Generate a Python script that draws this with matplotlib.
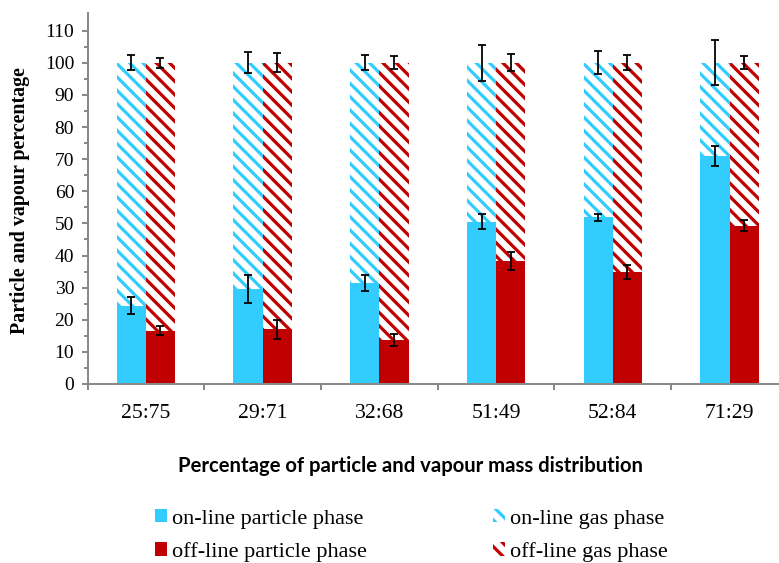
import numpy as np
import matplotlib
matplotlib.use('Agg')
import matplotlib.pyplot as plt
from matplotlib.patches import Patch

# ---- data ----
categories = ['25:75', '29:71', '32:68', '51:49', '52:84', '71:29']
online_particle = [24.4, 29.5, 31.3, 50.5, 51.9, 71.1]
online_particle_err = [2.7, 4.3, 2.5, 2.3, 1.1, 3.1]
offline_particle = [16.6, 17.0, 13.7, 38.4, 34.8, 49.3]
offline_particle_err = [1.5, 3.0, 2.0, 2.8, 2.2, 1.8]
online_gas = [100 - v for v in online_particle]
online_gas_err = [2.4, 3.3, 2.3, 5.6, 3.6, 7.0]
offline_gas = [100 - v for v in offline_particle]
offline_gas_err = [1.5, 3.0, 2.0, 2.6, 2.3, 2.0]

BLUE = '#33CCFF'
RED = '#C00000'
GREY = '#898989'
SERIF = 'Liberation Serif'

DPI = 80
plt.rcParams['hatch.linewidth'] = 2.9
plt.rcParams['font.family'] = SERIF

fig = plt.figure(figsize=(779 / DPI, 563 / DPI), dpi=DPI)
W, H = 779, 563
ax = fig.add_axes([87.5 / W, 1 - 384 / H, (788 - 87.5) / W, (384 - 13) / H])

x = np.arange(len(categories))
bw = 0.25
x_on = x - bw / 2
x_off = x + bw / 2
HATCH = '\\\\'

ax.bar(x_on, online_particle, bw, color=BLUE, linewidth=0)
ax.bar(x_off, offline_particle, bw, color=RED, linewidth=0)
ax.bar(x_on, online_gas, bw, bottom=online_particle, color='white',
       edgecolor=BLUE, hatch=HATCH, linewidth=0)
ax.bar(x_off, offline_gas, bw, bottom=offline_particle, color='white',
       edgecolor=RED, hatch=HATCH, linewidth=0)

eb = dict(fmt='none', ecolor='black', elinewidth=1.6, capsize=4, capthick=1.6)
ax.errorbar(x_on, online_particle, yerr=online_particle_err, **eb)
ax.errorbar(x_off, offline_particle, yerr=offline_particle_err, **eb)
ax.errorbar(x_on, [100] * len(x), yerr=online_gas_err, **eb)
ax.errorbar(x_off, [100] * len(x), yerr=offline_gas_err, **eb)

ax.set_xlim(-0.5, len(categories) - 0.5)
ax.set_ylim(0, 115.5)

# y axis
ax.set_yticks(np.arange(0, 111, 10))
ax.set_yticks(np.arange(5, 111, 10), minor=True)
ax.tick_params(axis='y', which='major', direction='out', length=5, width=1.8,
               color=GREY, labelsize=17.5, pad=7)
ax.tick_params(axis='y', which='minor', direction='out', length=4, width=1.8,
               color=GREY)

# x axis: ticks at boundaries, labels at centres
ax.set_xticks(np.arange(-0.5, len(categories), 1.0))
ax.set_xticklabels([])
ax.set_xticks(x, minor=True)
ax.set_xticklabels(categories, minor=True)
ax.tick_params(axis='x', which='major', direction='out', length=5, width=1.8,
               color=GREY)
ax.tick_params(axis='x', which='minor', length=0, labelsize=19.5, pad=18)

for side in ['top', 'right']:
    ax.spines[side].set_visible(False)
for side in ['left', 'bottom']:
    ax.spines[side].set_color(GREY)
    ax.spines[side].set_linewidth(1.8)

fig.text(20 / W, 1 - 201 / H, 'Particle and vapour percentage', rotation=90,
         ha='center', va='center', fontsize=18, fontweight='bold')

fig.text(410 / W, 1 - 466 / H, 'Percentage of particle and vapour mass distribution',
         ha='center', va='center', fontsize=18.2, fontweight='bold', family='Lato')

handles = [
    Patch(facecolor=BLUE, linewidth=0, label='on-line particle phase'),
    Patch(facecolor=RED, linewidth=0, label='off-line particle phase'),
    Patch(facecolor='white', edgecolor=BLUE, hatch=HATCH, linewidth=0,
          label='on-line gas phase'),
    Patch(facecolor='white', edgecolor=RED, hatch=HATCH, linewidth=0,
          label='off-line gas phase'),
]
fig.legend(handles=handles, ncol=2, loc='upper left',
           bbox_to_anchor=(155 / W, 1 - 509 / H), frameon=False,
           borderpad=0, borderaxespad=0,
           fontsize=20, handlelength=0.55, handleheight=0.55, handletextpad=0.2,
           columnspacing=5.7, labelspacing=0.6)

fig.savefig('out.png', dpi=DPI)
